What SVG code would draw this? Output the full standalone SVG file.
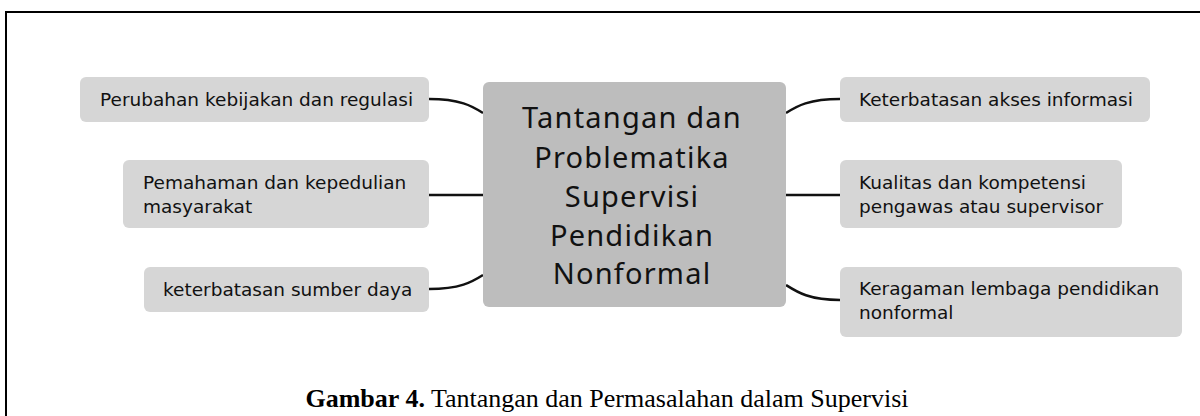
<svg xmlns="http://www.w3.org/2000/svg" width="1200" height="416" viewBox="0 0 1200 416">
<style>
.box{fill:#d6d6d6;}
.core{fill:#bdbdbd;}
.t{font-family:"DejaVu Sans","Noto Sans",sans-serif;font-size:18.5px;fill:#111;}
.c{font-family:"Noto Sans","Open Sans",sans-serif;font-size:29px;letter-spacing:1.2px;fill:#111;text-anchor:middle;}
.conn{fill:none;stroke:#111;stroke-width:2.5;}
.cap{font-family:"Liberation Serif","Times New Roman",serif;font-size:26px;fill:#000;text-anchor:middle;}
</style>
<rect width="1200" height="416" fill="#fff"/>
<path d="M6,416 V12 H1200" fill="none" stroke="#000" stroke-width="2"/>
<g id="connectors">
<path class="conn" d="M429,99 C460,99 472,106 483,113"/>
<path class="conn" d="M429,195 H483"/>
<path class="conn" d="M429,289 C460,289 472,282 483,275"/>
<path class="conn" d="M786,113 C797,106 809,99 840,99"/>
<path class="conn" d="M786,195 H840"/>
<path class="conn" d="M786,285 C797,292 809,300 840,300"/>
</g>
<g id="center">
<rect class="core" x="483" y="82" width="303" height="225" rx="6"/>
<text class="c" x="632" y="128">Tantangan dan</text>
<text class="c" x="632" y="168">Problematika</text>
<text class="c" x="632" y="207">Supervisi</text>
<text class="c" x="632" y="246">Pendidikan</text>
<text class="c" x="632" y="284">Nonformal</text>
</g>
<g id="n-left1">
<rect class="box" x="80" y="77" width="349" height="45" rx="6"/>
<text class="t" x="100" y="106">Perubahan kebijakan dan regulasi</text>
</g>
<g id="n-left2">
<rect class="box" x="123" y="160" width="306" height="68" rx="6"/>
<text class="t" x="143" y="189">Pemahaman dan kepedulian</text>
<text class="t" x="143" y="213">masyarakat</text>
</g>
<g id="n-left3">
<rect class="box" x="144" y="267" width="285" height="45" rx="6"/>
<text class="t" x="163" y="296">keterbatasan sumber daya</text>
</g>
<g id="n-right1">
<rect class="box" x="840" y="77" width="310" height="45" rx="6"/>
<text class="t" x="859" y="106">Keterbatasan akses informasi</text>
</g>
<g id="n-right2">
<rect class="box" x="840" y="160" width="282" height="68" rx="6"/>
<text class="t" x="859" y="189">Kualitas dan kompetensi</text>
<text class="t" x="859" y="213">pengawas atau supervisor</text>
</g>
<g id="n-right3">
<rect class="box" x="840" y="267" width="342" height="70" rx="6"/>
<text class="t" x="859" y="295">Keragaman lembaga pendidikan</text>
<text class="t" x="859" y="319">nonformal</text>
</g>
<text class="cap" x="607" y="407"><tspan font-weight="bold">Gambar 4.</tspan> Tantangan dan Permasalahan dalam Supervisi</text>
</svg>
